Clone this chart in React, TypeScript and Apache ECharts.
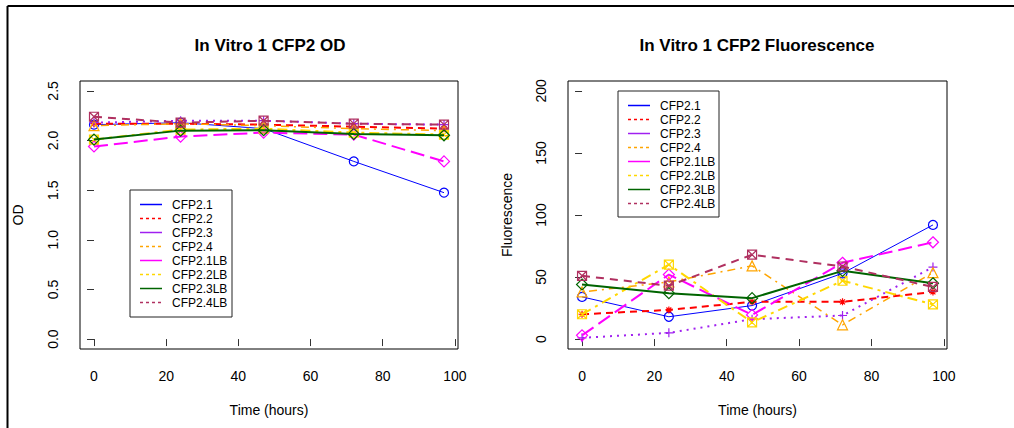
import React, { useEffect, useRef } from "react";
import * as echarts from "echarts";

// ---------- data ----------
const hours = [0, 24, 47, 72, 97];
const seriesNames = ["CFP2.1", "CFP2.2", "CFP2.3", "CFP2.4", "CFP2.1LB", "CFP2.2LB", "CFP2.3LB", "CFP2.4LB"];

const odCFP2_1 = [2.16, 2.18, 2.12, 1.79, 1.475];
const odCFP2_2 = [2.17, 2.17, 2.16, 2.14, 2.12];
const odCFP2_3 = [2.18, 2.2, 2.2, 2.17, 2.16];
const odCFP2_4 = [2.15, 2.17, 2.15, 2.12, 2.1];
const odCFP2_1LB = [1.94, 2.04, 2.08, 2.06, 1.79];
const odCFP2_2LB = [2.01, 2.11, 2.12, 2.08, 2.06];
const odCFP2_3LB = [2.01, 2.1, 2.105, 2.067, 2.053];
const odCFP2_4LB = [2.24, 2.18, 2.2, 2.17, 2.16];

const flCFP2_1 = [34, 18, 27, 53, 92];
const flCFP2_2 = [20, 23.5, 30, 30, 38];
const flCFP2_3 = [1, 5, 16, 19, 58];
const flCFP2_4 = [38, 46, 59, 11.5, 53.5];
const flCFP2_1LB = [3, 52, 19.5, 61.5, 78];
const flCFP2_2LB = [20, 60, 13.5, 47, 28];
const flCFP2_3LB = [44, 37, 33, 55, 45];
const flCFP2_4LB = [51, 43, 68, 58.5, 42];

const odSeries = [odCFP2_1, odCFP2_2, odCFP2_3, odCFP2_4, odCFP2_1LB, odCFP2_2LB, odCFP2_3LB, odCFP2_4LB];
const flSeries = [flCFP2_1, flCFP2_2, flCFP2_3, flCFP2_4, flCFP2_1LB, flCFP2_2LB, flCFP2_3LB, flCFP2_4LB];

const xTicks = [0, 20, 40, 60, 80, 100];
const odTicks = [0, 0.5, 1, 1.5, 2, 2.5];
const flTicks = [0, 50, 100, 150, 200];

// ---------- styles ----------
const FONT = "'Liberation Sans', Arial, Helvetica, sans-serif";
const colors = ["#0000FF", "#FF0000", "#A020F0", "#FFA500", "#FF00FF", "#FFD700", "#006400", "#B03060"];
const widths = [1, 2, 2, 1.5, 2, 2, 2, 2];
const dashes: any[] = ["solid", [7, 5], [2, 5], [2, 5, 8, 5], [14, 6], [10, 5, 3, 5], "solid", [8, 6]];
const SYM_PLUS = "path://M5,0L5,10M0,5L10,5";
const SYM_SQX = "path://M0,0L10,0L10,10L0,10ZM0,0L10,10M10,0L0,10";
const SYM_AST = "path://M5,0L5,10M0,5L10,5M1.5,1.5L8.5,8.5M8.5,1.5L1.5,8.5";
const symbols = ["circle", SYM_AST, SYM_PLUS, "triangle", "diamond", SYM_SQX, "diamond", SYM_SQX];
const symSizes = [9, 7, 9, 10, 11, 9, 11, 9];

function makeSeries(values: number[][], idx: number) {
  return values.map((vals, i) => ({
    name: seriesNames[i],
    type: "line",
    xAxisIndex: idx,
    yAxisIndex: idx,
    data: hours.map((h, k) => [h, vals[k]]),
    symbol: symbols[i],
    symbolSize: symSizes[i],
    showAllSymbol: true,
    lineStyle: { color: colors[i], width: widths[i], type: dashes[i] },
    itemStyle: { color: "transparent", borderColor: colors[i], borderWidth: 1.2 },
    emphasis: { disabled: true },
    z: 2 + i,
  }));
}

function xAxisCfg(gridIndex: number) {
  return {
    type: "value",
    gridIndex,
    min: -3.88,
    max: 100.88,
    axisLine: { show: false },
    splitLine: { show: false },
    axisTick: { show: true, customValues: xTicks, length: 7, inside: false, lineStyle: { color: "#333", width: 1 } },
    axisLabel: { customValues: xTicks, margin: 20, fontSize: 14, color: "#000", fontFamily: FONT },
    name: "Time (hours)",
    nameLocation: "middle",
    nameGap: 54,
    nameTextStyle: { fontSize: 14, color: "#000", fontFamily: FONT },
  };
}

function yAxisCfg(gridIndex: number, min: number, max: number, ticks: number[], name: string, gap: number, fmt: (v: number) => string) {
  return {
    type: "value",
    gridIndex,
    min,
    max,
    axisLine: { show: false },
    splitLine: { show: false },
    axisTick: { show: true, customValues: ticks, length: 7, inside: false, lineStyle: { color: "#333", width: 1 } },
    axisLabel: { customValues: ticks, rotate: 90, margin: 20, fontSize: 14, color: "#000", fontFamily: FONT, formatter: fmt },
    name,
    nameLocation: "middle",
    nameGap: gap,
    nameTextStyle: { fontSize: 14, color: "#000", fontFamily: FONT },
  };
}

function legendGraphic(x0: number, y0: number, w: number, h: number) {
  const children: any[] = [
    { type: "rect", shape: { x: x0, y: y0, width: w, height: h }, style: { fill: "#fff", stroke: "#222", lineWidth: 1 } },
  ];
  seriesNames.forEach((n, i) => {
    const y = y0 + 14.5 + i * 14;
    children.push({
      type: "line",
      shape: { x1: x0 + 10, y1: y, x2: x0 + 32, y2: y },
      style: { stroke: colors[i], lineWidth: 1.5, lineDash: i % 2 === 1 ? [3, 3] : null },
    });
    children.push({
      type: "text",
      x: x0 + 42,
      y,
      style: { text: n, font: `12px ${FONT}`, fill: "#000", textVerticalAlign: "middle", textAlign: "left" },
    });
  });
  return { type: "group", children, z: 100 };
}

export default function App() {
  const ref = useRef<HTMLDivElement>(null);
  useEffect(() => {
    if (!ref.current) return;
    const chart = echarts.init(ref.current, null, { renderer: "svg" });
    chart.setOption({
      animation: false,
      backgroundColor: "#fff",
      grid: [
        { left: 80, top: 81, width: 378, height: 268, show: true, borderColor: "#000", borderWidth: 1, backgroundColor: "transparent" },
        { left: 568, top: 81, width: 379, height: 268, show: true, borderColor: "#000", borderWidth: 1, backgroundColor: "transparent" },
      ],
      xAxis: [xAxisCfg(0), xAxisCfg(1)],
      yAxis: [
        yAxisCfg(0, -0.1, 2.6, odTicks, "OD", 55, (v: number) => v.toFixed(1)),
        yAxisCfg(1, -8, 208, flTicks, "Fluorescence", 54, (v: number) => String(v)),
      ],
      series: [...makeSeries(odSeries, 0), ...makeSeries(flSeries, 1)],
      graphic: [
        { type: "line", shape: { x1: 7.5, y1: 6, x2: 7.5, y2: 428 }, style: { stroke: "#000", lineWidth: 2 } },
        { type: "line", shape: { x1: 7.5, y1: 6, x2: 1014, y2: 6 }, style: { stroke: "#000", lineWidth: 2 } },
        { type: "text", x: 270, y: 45, style: { text: "In Vitro 1 CFP2 OD", font: `bold 17px ${FONT}`, fill: "#000", textAlign: "center", textVerticalAlign: "middle" } },
        { type: "text", x: 757, y: 45, style: { text: "In Vitro 1 CFP2 Fluorescence", font: `bold 17px ${FONT}`, fill: "#000", textAlign: "center", textVerticalAlign: "middle" } },
        legendGraphic(130, 190, 102, 127),
        legendGraphic(618, 91, 101, 126),
      ],
    });
    return () => chart.dispose();
  }, []);
  return <div ref={ref} style={{ position: "fixed", left: 0, top: 0, width: 1014, height: 428 }} />;
}
